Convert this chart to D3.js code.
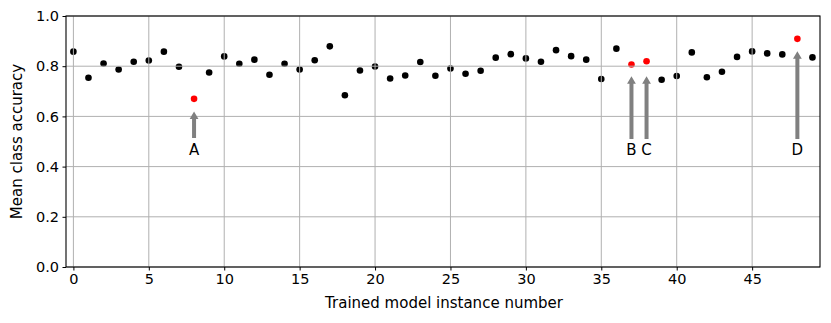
<!DOCTYPE html>
<html>
<head>
<meta charset="utf-8">
<script src="https://cdn.jsdelivr.net/npm/d3@7/dist/d3.min.js"></script>
<style>
  body { margin: 0; background: #fff; }
  text { font-family: "DejaVu Sans", sans-serif; fill: #000; }
</style>
</head>
<body>
<svg id="chart"></svg>
<script>
// mean class accuracy per trained model instance (0..49)
const accuracy = [
  0.858, 0.754, 0.811, 0.787, 0.818, 0.823, 0.858, 0.798, 0.670, 0.775,
  0.839, 0.810, 0.826, 0.766, 0.810, 0.787, 0.824, 0.879, 0.684, 0.783,
  0.799, 0.751, 0.763, 0.817, 0.762, 0.791, 0.770, 0.782, 0.834, 0.848,
  0.831, 0.818, 0.864, 0.840, 0.826, 0.749, 0.870, 0.807, 0.820, 0.746,
  0.761, 0.855, 0.756, 0.778, 0.837, 0.859, 0.851, 0.847, 0.909, 0.835
];
const highlighted = [8, 37, 38, 48];

// annotations
const noteLabels = ['A', 'B', 'C', 'D'];
const noteX = [8, 37, 38, 48];
const noteTip = [0.62, 0.76, 0.76, 0.86];
const noteTail = [0.514, 0.51, 0.51, 0.51];
const noteText = 0.468;

const xTicks = [0, 5, 10, 15, 20, 25, 30, 35, 40, 45];
const yTicks = [0.0, 0.2, 0.4, 0.6, 0.8, 1.0];

const width = 831, height = 323;
const margin = { top: 16, right: 11, bottom: 56, left: 66 };
const w = width - margin.left - margin.right;
const h = height - margin.top - margin.bottom;

const svg = d3.select('#chart').attr('width', width).attr('height', height);
const g = svg.append('g').attr('transform', `translate(${margin.left},${margin.top})`);

const x = d3.scaleLinear().domain([-0.49, 49.5]).range([0, w]);
const y = d3.scaleLinear().domain([0, 1]).range([h, 0]);

// points
g.selectAll('circle.pt')
  .data(accuracy)
  .enter()
  .append('circle')
  .attr('class', 'pt')
  .attr('cx', (d, i) => x(i))
  .attr('cy', d => y(d))
  .attr('r', 3.3)
  .attr('fill', (d, i) => highlighted.includes(i) ? '#ff0000' : '#000');

// grid (drawn over the points, like the original)
g.append('g')
  .selectAll('line')
  .data(xTicks)
  .enter()
  .append('line')
  .attr('x1', d => x(d)).attr('x2', d => x(d))
  .attr('y1', 0).attr('y2', h)
  .attr('stroke', '#b0b0b0').attr('stroke-width', 1);
g.append('g')
  .selectAll('line')
  .data(yTicks)
  .enter()
  .append('line')
  .attr('x1', 0).attr('x2', w)
  .attr('y1', d => y(d)).attr('y2', d => y(d))
  .attr('stroke', '#b0b0b0').attr('stroke-width', 1);

// arrows
const headLen = 7.5, headW = 4.4, shaftW = 2;
g.selectAll('path.arrow')
  .data(noteX)
  .enter()
  .append('path')
  .attr('class', 'arrow')
  .attr('fill', '#808080')
  .attr('d', (d, i) => {
    const cx = x(d), tip = y(noteTip[i]), tail = y(noteTail[i]);
    return `M${cx},${tip} L${cx + headW},${tip + headLen} L${cx + shaftW},${tip + headLen}
            L${cx + shaftW},${tail} L${cx - shaftW},${tail} L${cx - shaftW},${tip + headLen}
            L${cx - headW},${tip + headLen} Z`;
  });

g.selectAll('text.note')
  .data(noteLabels)
  .enter()
  .append('text')
  .attr('class', 'note')
  .attr('x', (d, i) => x(noteX[i]))
  .attr('y', y(noteText))
  .attr('text-anchor', 'middle')
  .attr('dominant-baseline', 'central')
  .style('font-size', '15px')
  .text(d => d);

// axes
const xAxis = g.append('g')
  .attr('transform', `translate(0,${h})`)
  .call(d3.axisBottom(x).tickValues(xTicks).tickSize(3.5).tickPadding(3.5).tickFormat(d3.format('d')));
const yAxis = g.append('g')
  .call(d3.axisLeft(y).tickValues(yTicks).tickSize(3.5).tickPadding(3.5).tickFormat(d3.format('.1f')));
[xAxis, yAxis].forEach(a => {
  a.select('.domain').remove();
  a.selectAll('text').style('font-size', '14.5px').style('font-family', '"DejaVu Sans", sans-serif');
  a.selectAll('line').attr('stroke', '#000').attr('stroke-width', 1);
});

// frame
g.append('rect')
  .attr('width', w).attr('height', h)
  .attr('fill', 'none').attr('stroke', '#000').attr('stroke-width', 1.1);

// axis titles
svg.append('text')
  .attr('x', margin.left + w / 2 + 1)
  .attr('y', 303)
  .attr('text-anchor', 'middle')
  .attr('dominant-baseline', 'central')
  .style('font-size', '15px')
  .text('Trained model instance number');

svg.append('text')
  .attr('transform', `translate(17,${margin.top + h / 2}) rotate(-90)`)
  .attr('text-anchor', 'middle')
  .attr('dominant-baseline', 'central')
  .style('font-size', '15px')
  .text('Mean class accuracy');
</script>
</body>
</html>
